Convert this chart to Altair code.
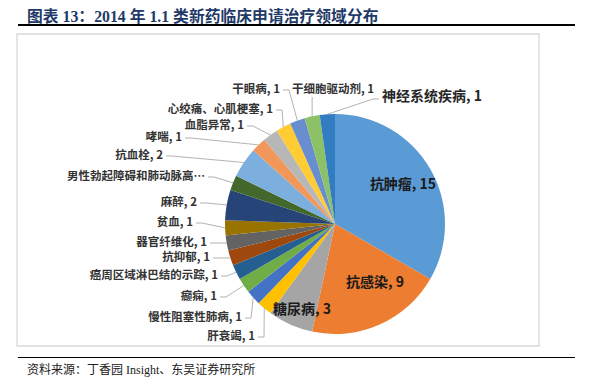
import math
import altair as alt
import pandas as pd

# ---- data ----
categories = ["抗肿瘤", "抗感染", "糖尿病", "肝衰竭", "慢性阻塞性肺病", "癫痫",
              "癌周区域淋巴结的示踪", "抗抑郁", "器官纤维化", "贫血", "麻醉",
              "男性勃起障碍和肺动脉高压", "抗血栓", "哮喘", "血脂异常",
              "心绞痛、心肌梗塞", "干眼病", "干细胞驱动剂", "神经系统疾病"]
counts = [15, 9, 3, 1, 1, 1, 1, 1, 1, 1, 2, 1, 2, 1, 1, 1, 1, 1, 1]
# label texts as printed (the long one is truncated in the source, value hidden)
label_texts = ["抗肿瘤, 15", "抗感染, 9", "糖尿病, 3", "肝衰竭, 1", "慢性阻塞性肺病, 1", "癫痫, 1",
               "癌周区域淋巴结的示踪, 1", "抗抑郁, 1", "器官纤维化, 1", "贫血, 1", "麻醉, 2",
               "男性勃起障碍和肺动脉高…", "抗血栓, 2", "哮喘, 1", "血脂异常, 1",
               "心绞痛、心肌梗塞, 1", "干眼病, 1", "干细胞驱动剂, 1", "神经系统疾病, 1"]

# ---- styles / layout ----
colors = ["#5B9BD5", "#ED7D31", "#A5A5A5", "#FFC000", "#4472C4", "#70AD47",
          "#255E91", "#9E480E", "#636363", "#997300", "#264478", "#43682B",
          "#7CAFDD", "#F1975A", "#B7B7B7", "#FFCD33", "#698ED0", "#8CC168", "#327DC2"]
# label anchors (page pixels) like Excel's placed data labels
label_x = [403, 375, 302, 255, 242, 217, 218, 210, 207, 193, 197, 205, 163, 182, 244, 273, 280, 333, 382]
label_y = [185, 283, 310, 337, 318, 297, 276, 258, 243, 223, 203, 177, 156, 138, 126, 110, 90, 90, 97]
label_kind = ["in", "in", "in", "r", "r", "r", "r", "r", "r", "r", "r", "r", "r", "r", "r", "r", "r", "c", "l"]

OFF = 8          # page margin
W, H = 576, 373
CX, CY, R = 335 - OFF, 224 - OFF, 110
FONT = "Noto Sans CJK SC"

df = pd.DataFrame({"category": categories, "count": counts, "idx": range(len(counts))})

# label table and leader lines derived from slice angles
total = sum(counts)
rows, lines = [], []
cum = 0
for i, (name, v) in enumerate(zip(categories, counts)):
    mid = (cum + v / 2) / total * 2 * math.pi
    cum += v
    ex, ey = CX + R * math.sin(mid), CY - R * math.cos(mid)
    lx, ly = label_x[i] - OFF, label_y[i] - OFF
    kind = label_kind[i]
    rows.append({"text": label_texts[i], "x": lx, "y": ly, "kind": kind})
    if kind == "r":
        pts = [(lx + 3, ly), (lx + 9, ly), (ex, ey)]
    elif kind == "l":
        pts = [(lx - 3, ly + 2), (lx - 9, ly + 2), (ex, ey)]
    elif kind == "c":
        pts = [(ex, ly + 7), (ex, ly + 8), (ex, ey)]
    else:
        pts = []
    for k, (px, py) in enumerate(pts):
        lines.append({"lab": name, "o": k, "x": px, "y": py})
lab = pd.DataFrame(rows)
ldf = pd.DataFrame(lines)

pie = alt.Chart(df).mark_arc(outerRadius=R).encode(
    theta=alt.Theta("count:Q", stack=True),
    color=alt.Color("category:N", scale=alt.Scale(domain=categories, range=colors), legend=None),
    order=alt.Order("idx:Q", sort="ascending"),
    x=alt.value(CX), y=alt.value(CY),
)

leaders = alt.Chart(ldf).mark_line(color="#A0A0A0", strokeWidth=0.8).encode(
    x=alt.X("x:Q", scale=None), y=alt.Y("y:Q", scale=None),
    detail="lab:N", order="o:Q",
)

def text_layer(kind, align, size, color):
    return alt.Chart(lab).transform_filter(alt.datum.kind == kind).mark_text(
        align=align, baseline="middle", font=FONT, fontSize=size, fontWeight="bold", color=color
    ).encode(x=alt.X("x:Q", scale=None), y=alt.Y("y:Q", scale=None), text="text:N")

t_r = text_layer("r", "right", 11.5, "#333333")
t_c = text_layer("c", "center", 11.5, "#333333")
t_l = text_layer("l", "left", 14, "#262626")
t_in = text_layer("in", "center", 14, "#1a1a1a")

one = pd.DataFrame({"a": [0]})
frame = alt.Chart(one).mark_rect(fillOpacity=0, stroke="#D9D9D9", strokeWidth=1.3).encode(
    x=alt.value(17 - OFF), x2=alt.value(539 - OFF), y=alt.value(34 - OFF), y2=alt.value(346 - OFF))
top_rule = alt.Chart(one).mark_rule(color="black", strokeWidth=2).encode(
    x=alt.value(18 - OFF), x2=alt.value(575 - OFF), y=alt.value(25 - OFF))
bot_rule = alt.Chart(one).mark_rule(color="black", strokeWidth=1.2).encode(
    x=alt.value(18 - OFF), x2=alt.value(575 - OFF), y=alt.value(357.5 - OFF))
title = alt.Chart(one).mark_text(
    align="left", baseline="top", font="Liberation Serif, Noto Sans CJK SC", fontSize=15.8,
    fontWeight="bold", color="#1F3A68"
).encode(x=alt.value(27 - OFF), y=alt.value(1.5), text=alt.value("图表 13：2014 年 1.1 类新药临床申请治疗领域分布"))
source = alt.Chart(one).mark_text(
    align="left", baseline="middle", font="Liberation Serif, Noto Sans CJK SC", fontSize=12,
    color="#222222"
).encode(x=alt.value(27 - OFF), y=alt.value(370 - OFF), text=alt.value("资料来源：丁香园 Insight、东吴证券研究所"))

chart = alt.layer(frame, pie, leaders, t_r, t_c, t_l, t_in, top_rule, bot_rule, title, source).properties(
    width=W, height=H, padding=0
).configure_view(stroke=None)

chart.save("out.html", embed_options={"renderer": "svg", "actions": False})
